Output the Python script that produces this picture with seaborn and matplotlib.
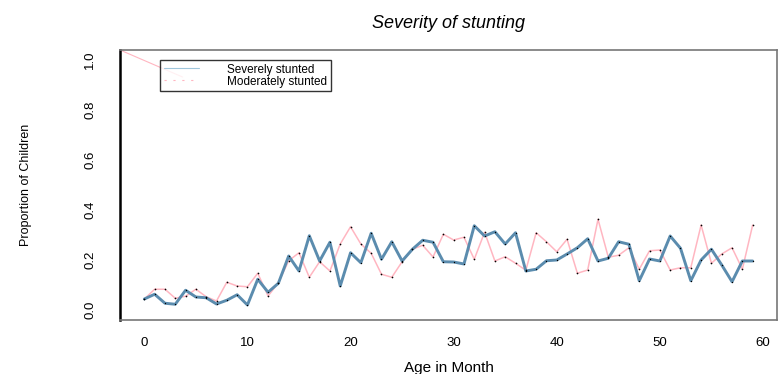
import numpy as np
import pandas as pd
import matplotlib
matplotlib.use('Agg')
import matplotlib.pyplot as plt
from matplotlib.lines import Line2D
import seaborn as sns

# proportion of children by age in months
age = list(range(60))
severe = [0.044, 0.063, 0.027, 0.023, 0.079, 0.052, 0.049, 0.024, 0.039, 0.061,
          0.020, 0.123, 0.071, 0.107, 0.216, 0.156, 0.297, 0.196, 0.271, 0.096,
          0.229, 0.189, 0.307, 0.203, 0.273, 0.196, 0.243, 0.279, 0.271, 0.193,
          0.192, 0.184, 0.337, 0.296, 0.313, 0.264, 0.309, 0.156, 0.163, 0.197,
          0.200, 0.224, 0.249, 0.285, 0.196, 0.207, 0.273, 0.263, 0.117, 0.204,
          0.196, 0.296, 0.247, 0.117, 0.200, 0.243, 0.180, 0.113, 0.196, 0.196]
moderate = [0.044, 0.083, 0.083, 0.047, 0.055, 0.083, 0.053, 0.036, 0.111, 0.096,
            0.093, 0.147, 0.056, 0.109, 0.197, 0.229, 0.131, 0.193, 0.156, 0.264,
            0.333, 0.264, 0.227, 0.143, 0.131, 0.193, 0.243, 0.259, 0.212, 0.303,
            0.280, 0.291, 0.203, 0.311, 0.196, 0.213, 0.187, 0.159, 0.309, 0.273,
            0.233, 0.283, 0.147, 0.160, 0.363, 0.211, 0.219, 0.249, 0.163, 0.237,
            0.240, 0.160, 0.169, 0.169, 0.340, 0.187, 0.224, 0.249, 0.163, 0.340]
# odd pink segment running into the legend in the original
stray_x = [-2.36, 3.7]
stray_y = [1.04, 0.932]

x_ticks = [0, 10, 20, 30, 40, 50, 60]
y_ticks = [0.0, 0.2, 0.4, 0.6, 0.8, 1.0]

df = pd.DataFrame({'age': age, 'severe': severe, 'moderate': moderate})

sns.set_style('white')
plt.rcParams['font.family'] = ['Liberation Sans', 'DejaVu Sans']
plt.rcParams['text.color'] = 'black'
plt.rcParams['axes.labelcolor'] = 'black'
plt.rcParams['xtick.labelcolor'] = 'black'
plt.rcParams['ytick.labelcolor'] = 'black'
narrow = ['Liberation Sans Narrow', 'Liberation Sans', 'DejaVu Sans']

blue = '#5b8cae'
pink = '#ffb6c1'

fig = plt.figure(figsize=(7.78, 3.74), dpi=100)
ax = fig.add_axes([120 / 778, 1 - 320 / 374, 657 / 778, 270 / 374])

sns.lineplot(data=df, x='age', y='moderate', ax=ax, color=pink, linewidth=1.1)
sns.lineplot(data=df, x='age', y='severe', ax=ax, color=blue, linewidth=2.1)
ax.plot(stray_x, stray_y, color=pink, linewidth=0.8, clip_on=False)
ax.scatter(df['age'], df['moderate'], s=1.5, color='black', zorder=5, linewidths=0)
ax.scatter(df['age'], df['severe'], s=1.0, color='black', zorder=5, linewidths=0)

ax.set_xlim(-2.36, 61.36)
ax.set_ylim(-0.04, 1.04)
ax.set_xticks(x_ticks)
ax.set_yticks(y_ticks)
ax.set_xticklabels([str(t) for t in x_ticks], fontsize=9.5)
ax.set_yticklabels(['%.1f' % t for t in y_ticks], rotation=90, va='center',
                   fontsize=9.5, family=narrow)
ax.tick_params(axis='x', direction='out', length=6, width=1, color='black', pad=6)
ax.tick_params(axis='y', direction='out', length=11, width=1, color='#888888', pad=6)

for side in ['top', 'right', 'bottom']:
    ax.spines[side].set_color('#777777')
    ax.spines[side].set_linewidth(1.2)
ax.spines['left'].set_color('black')
ax.spines['left'].set_linewidth(1.8)

ax.set_title('Severity of stunting', fontsize=13, style='italic', pad=16)
ax.set_xlabel('Age in Month', fontsize=11, labelpad=9)
ax.set_ylabel('Proportion of Children', fontsize=9, family=narrow, labelpad=38)

handles = [Line2D([0], [0], color='#9fc6dc', linewidth=0.8),
           Line2D([0], [0], color=pink, linewidth=0.8, linestyle=(0, (2, 6)))]
leg = ax.legend(handles, ['Severely stunted', 'Moderately stunted'],
                loc='upper left', bbox_to_anchor=(0.061, 0.963), borderaxespad=0,
                fontsize=8.5, frameon=True, fancybox=False, handlelength=3.0,
                labelspacing=0.0, borderpad=0.3, handletextpad=2.4)
leg.get_frame().set_edgecolor('black')
leg.get_frame().set_linewidth(1.0)

fig.savefig('out.png', dpi=100)
